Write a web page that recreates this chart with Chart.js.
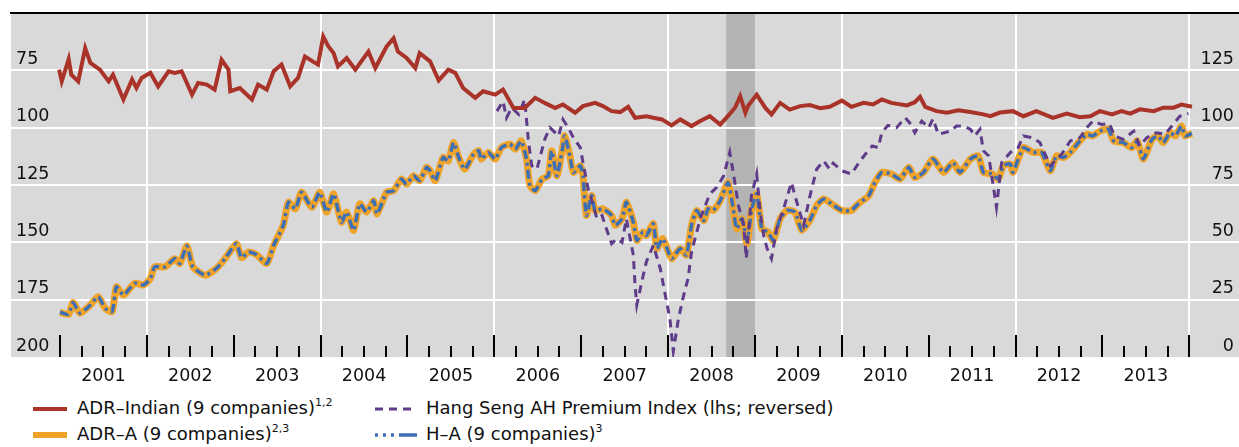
<!DOCTYPE html>
<html><head><meta charset="utf-8">
<script src="https://cdn.jsdelivr.net/npm/chart.js@4.4.1/dist/chart.umd.min.js"></script>
<style>
html,body{margin:0;padding:0;background:#fff;width:1239px;height:447px;overflow:hidden;font-family:"DejaVu Sans",sans-serif;}
#wrap{position:absolute;left:0;top:0;width:1239px;height:396px;}
.lg{position:absolute;font-size:18px;line-height:20px;color:#111;white-space:nowrap;}
.lg sup{font-size:11px;line-height:0;position:relative;top:-1px;vertical-align:super;}
.sym{position:absolute;}
</style></head><body>
<div id="wrap"><canvas id="c" width="1239" height="396"></canvas></div>

<svg class="sym" style="left:33px;top:404px" width="36" height="10"><line x1="0" y1="5" x2="34" y2="5" stroke="#a93229" stroke-width="4"/></svg>
<div class="lg" style="left:77px;top:398px">ADR–Indian (9 companies)<sup>1,2</sup></div>
<svg class="sym" style="left:33px;top:430px" width="36" height="10"><line x1="0" y1="5" x2="34" y2="5" stroke="#f0a329" stroke-width="6"/></svg>
<div class="lg" style="left:77px;top:424px">ADR–A (9 companies)<sup>2,3</sup></div>
<svg class="sym" style="left:375px;top:404px" width="42" height="10"><line x1="0" y1="5" x2="42" y2="5" stroke="#5f3c8a" stroke-width="3" stroke-dasharray="8 6"/></svg>
<div class="lg" style="left:426px;top:398px">Hang Seng AH Premium Index (lhs; reversed)</div>
<svg class="sym" style="left:375px;top:430px" width="42" height="10"><line x1="0" y1="5" x2="42" y2="5" stroke="#3d6fb5" stroke-width="3.5" stroke-dasharray="3 5 3 5 3 5 18 0"/></svg>
<div class="lg" style="left:426px;top:424px">H–A (9 companies)<sup>3</sup></div>

<script>
// ---- data (decimal years, index values) ----
const indianYears = [2000.99,2001.02,2001.10,2001.13,2001.21,2001.29,2001.35,2001.46,2001.56,2001.61,2001.73,2001.83,2001.88,2001.94,2002.04,2002.13,2002.25,2002.32,2002.40,2002.52,2002.59,2002.69,2002.78,2002.86,2002.94,2002.96,2003.07,2003.21,2003.28,2003.38,2003.46,2003.55,2003.65,2003.74,2003.82,2003.97,2004.03,2004.09,2004.15,2004.20,2004.30,2004.40,2004.55,2004.63,2004.76,2004.84,2004.89,2004.99,2005.09,2005.14,2005.26,2005.36,2005.47,2005.55,2005.64,2005.78,2005.87,2006.01,2006.10,2006.22,2006.35,2006.47,2006.58,2006.70,2006.79,2006.93,2007.02,2007.16,2007.25,2007.35,2007.45,2007.54,2007.62,2007.75,2007.83,2007.93,2008.04,2008.14,2008.27,2008.37,2008.48,2008.60,2008.67,2008.77,2008.83,2008.89,2008.92,2009.02,2009.12,2009.19,2009.29,2009.40,2009.52,2009.63,2009.75,2009.86,2010.00,2010.11,2010.25,2010.36,2010.46,2010.57,2010.75,2010.84,2010.90,2010.96,2011.09,2011.21,2011.34,2011.48,2011.63,2011.71,2011.82,2011.97,2012.09,2012.24,2012.43,2012.59,2012.74,2012.86,2012.97,2013.11,2013.22,2013.32,2013.43,2013.59,2013.70,2013.82,2013.91,2014.03];
const indianValues = [125.3,120.2,129.9,123.1,120.2,134.7,128.2,125.3,120.2,123.1,112.3,121,117.3,121.7,123.9,118,124.6,123.9,124.6,114.4,119.5,118.8,116.6,129.6,125.3,115.9,117.3,112.3,118.8,116.6,124.6,127.5,118,121.7,131,127.5,139.7,135.4,132.5,126.7,130.4,125.3,133.2,126,135.4,139,133.2,130.4,126,132.5,128.9,120.6,125.3,123.9,117.3,113,115.9,114.4,116.6,108.6,108.6,113,110.8,108.6,110.1,106.5,109.4,110.8,109.4,107.2,106.8,109.1,104.3,105,104.3,103.6,101,103.6,100.7,102.9,105,101.4,104.3,108.7,113.7,106.5,109.4,114.4,108.6,105.8,110.8,107.9,109.4,109.9,108.5,109.1,111.8,109.1,110.8,110.1,112.3,110.8,109.7,111.1,113.4,109.1,107.2,106.5,107.6,106.8,105.8,105,106.6,107.2,105,107.2,104.3,106.1,104.6,105,107.2,105.8,107.2,106.1,108,107.2,108.7,108.7,110.1,109.1];

const adrYears = [2001.00,2001.10,2001.15,2001.23,2001.35,2001.44,2001.52,2001.60,2001.65,2001.73,2001.86,2001.96,2002.04,2002.09,2002.21,2002.32,2002.38,2002.46,2002.53,2002.67,2002.80,2002.90,2003.03,2003.09,2003.17,2003.26,2003.38,2003.46,2003.57,2003.63,2003.71,2003.78,2003.90,2003.99,2004.07,2004.15,2004.24,2004.30,2004.38,2004.45,2004.53,2004.61,2004.65,2004.76,2004.84,2004.93,2004.99,2005.07,2005.14,2005.22,2005.26,2005.32,2005.41,2005.47,2005.53,2005.59,2005.66,2005.76,2005.82,2005.85,2005.93,2006.01,2006.08,2006.18,2006.24,2006.31,2006.37,2006.41,2006.47,2006.55,2006.62,2006.66,2006.72,2006.78,2006.81,2006.87,2006.91,2006.99,2007.02,2007.06,2007.12,2007.16,2007.25,2007.35,2007.39,2007.47,2007.52,2007.60,2007.64,2007.71,2007.75,2007.83,2007.87,2007.94,2008.04,2008.14,2008.21,2008.27,2008.33,2008.41,2008.46,2008.52,2008.60,2008.69,2008.75,2008.79,2008.85,2008.91,2008.96,2009.02,2009.08,2009.15,2009.21,2009.29,2009.37,2009.46,2009.54,2009.63,2009.71,2009.79,2009.88,2010.00,2010.11,2010.19,2010.31,2010.38,2010.46,2010.57,2010.67,2010.77,2010.84,2010.94,2011.05,2011.17,2011.28,2011.36,2011.48,2011.57,2011.63,2011.73,2011.80,2011.86,2011.94,2011.97,2012.09,2012.20,2012.30,2012.40,2012.47,2012.55,2012.63,2012.74,2012.82,2012.89,2012.97,2013.07,2013.13,2013.24,2013.34,2013.40,2013.47,2013.57,2013.64,2013.70,2013.78,2013.84,2013.91,2013.95,2014.03];
const adrValues = [19.5,18.6,23.8,19.1,22.7,26.3,21.2,19.8,30.6,27,32.1,31.4,34.2,39.3,39.3,42.9,40.8,48.4,39.3,35.7,38.6,42.9,49.4,43.3,45.8,44.7,40.8,48.7,57.4,67.5,64.6,71.8,65.3,71.8,63.2,71.1,58.8,63.2,55.2,66.8,63.2,68.2,62.4,71.8,72.5,77.6,75.4,79,76.9,82.7,81.2,76.9,87,85.5,93.5,87,81.9,88.4,89.9,86.3,89.2,86.3,91.3,92.8,90.6,94.2,86.3,74.7,72.5,77.6,79,89.9,79,89.9,96.4,87.7,80.5,83.4,79,61.7,70.4,63.9,64.6,61.7,57.4,60.3,67.5,58.8,50.9,54.5,53,58.1,47.3,51.6,42.9,47.3,44.4,57.4,63.9,59.5,64.6,63.9,68.2,76.1,64.6,55.9,60.3,49.4,63.9,71.1,55.9,54.5,50.9,60.3,63.9,63.2,55.2,59.5,66,68.9,66.8,63.9,63.9,66.8,70.4,76.1,80.5,79.8,77.6,82.7,78.3,80.5,86.3,80.5,84.8,80.5,86.3,87.7,80.5,79.8,77.6,83.4,84.1,80.5,91.3,89.2,89.2,81.2,87.7,87,89.2,94.2,97.1,96.4,98.5,99.3,94.2,93.5,91.3,94.2,86.3,94.9,96.4,93.5,97.8,96.4,100.7,96.4,97.5];
const haValues = [19.5,18.6,23.8,19.1,22.7,26.3,21.2,19.8,30.6,27,32.1,31.4,34.2,39.3,39.3,42.9,40.8,48.4,39.3,35.7,38.6,42.9,49.4,43.3,45.8,44.7,40.8,48.7,57.4,67.5,64.6,71.8,65.3,71.8,63.2,71.1,58.8,63.2,55.2,66.8,63.2,68.2,62.4,71.8,72.5,77.6,75.4,79,76.9,82.7,81.2,76.9,87,85.5,93.5,87,81.9,88.4,89.9,86.3,89.2,86.3,91.3,92.8,90.6,94.2,86.3,74.7,72.5,77.6,79,89.9,79,89.9,96.4,87.7,80.5,83.4,79,61.7,70.4,63.9,64.6,61.7,57.4,60.3,67.5,58.8,50.9,54.5,53,58.1,47.3,51.6,42.9,47.3,44.4,57.4,63.9,59.5,64.6,63.9,68.2,76.1,64.6,55.9,60.3,50.5,63.9,71.1,55.9,54.5,50.9,60.3,63.9,63.2,55.2,59.5,66,68.9,66.8,63.9,63.9,66.8,70.4,76.1,80.5,79.8,77.6,82.7,78.3,80.5,86.3,80.5,84.8,80.5,86.3,87.7,80.5,79.8,77.6,83.4,84.1,80.5,91.3,89.2,89.2,81.2,87.7,87,89.2,94.2,97.1,96.4,98.5,99.3,94.2,93.5,91.3,94.2,86.3,94.9,96.4,93.5,97.8,96.4,100.7,96.4,97.5];

const hsYears = [2006.03,2006.10,2006.14,2006.20,2006.28,2006.35,2006.39,2006.43,2006.49,2006.58,2006.64,2006.74,2006.79,2006.85,2006.91,2006.99,2007.02,2007.08,2007.14,2007.18,2007.24,2007.29,2007.35,2007.41,2007.47,2007.52,2007.60,2007.62,2007.64,2007.71,2007.75,2007.83,2007.91,2007.96,2008.02,2008.06,2008.12,2008.18,2008.23,2008.27,2008.37,2008.48,2008.56,2008.64,2008.71,2008.75,2008.81,2008.87,2008.90,2008.96,2009.02,2009.06,2009.10,2009.14,2009.19,2009.25,2009.33,2009.42,2009.46,2009.56,2009.63,2009.71,2009.79,2009.86,2009.90,2010.00,2010.11,2010.21,2010.27,2010.35,2010.42,2010.46,2010.53,2010.63,2010.73,2010.78,2010.84,2010.92,2011.00,2011.05,2011.11,2011.25,2011.32,2011.40,2011.48,2011.53,2011.59,2011.63,2011.69,2011.76,2011.78,2011.84,2011.94,2012.03,2012.09,2012.20,2012.28,2012.40,2012.53,2012.63,2012.74,2012.82,2012.89,2012.99,2013.08,2013.14,2013.24,2013.36,2013.43,2013.51,2013.62,2013.72,2013.80,2013.89,2013.99];
const hsValues = [92.8,88.5,95.7,91.3,94.2,87.7,105,116.6,118.1,105.1,100,103.6,96.4,100,104.4,108.7,115.2,126.7,134,139.7,138.3,144.1,150.6,148.4,150,139.7,155.6,168.6,177.3,165,158.5,151.3,161.4,171.5,183.1,197.5,183.1,173,165.8,154.2,139.7,128.9,126,121,110.8,119.5,134,142.6,157.1,129.6,120.2,136.8,147,152.7,157.1,144.1,135.4,123.9,129.6,142.6,130.3,118.1,114.5,118.1,115.5,118.8,120.2,114.5,111.6,108,108.7,102.2,99,100,95.7,97.8,102.2,97.1,100,96.1,102.9,101.5,99.3,99.3,100.7,103.6,100.7,110.1,112.3,129.6,134.7,115.2,110.8,108.7,103.6,104.4,106.5,116.6,111.6,105.8,104.4,100,97.1,98.6,98.2,103.6,105.1,101.5,108,104.4,102.2,102.9,99.3,95,93.8];

const shadeStart = [2008.67];
const shadeEnd = [2009.00];
const yearLabels = ['2001','2002','2003','2004','2005','2006','2007','2008','2009','2010','2011','2012','2013'];
const leftTicks = [50,75,100,125,150,175,200];
const rightTicks = [0,25,50,75,100,125,150];
const xMin = 2000.436, xMax = 2014.572;

const pts = (xs, ys) => xs.map((x, i) => ({x, y: ys[i]}));
const FONT = {family: '"DejaVu Sans", sans-serif', size: 17.5};

const bgPlugin = {
  id: 'bg',
  beforeDraw(chart) {
    const {ctx, chartArea: a, scales: {x}} = chart;
    ctx.save();
    ctx.fillStyle = '#d9d9d9';
    ctx.fillRect(a.left, a.top, a.right - a.left, a.bottom - a.top);
    ctx.fillStyle = '#b3b3b3';
    shadeStart.forEach((s, i) => {
      const x0 = x.getPixelForValue(s), x1 = x.getPixelForValue(shadeEnd[i]);
      ctx.fillRect(x0, a.top, x1 - x0, a.bottom - a.top);
    });
    ctx.restore();
  },
  beforeDatasetsDraw(chart) {
    const {ctx, chartArea: a, scales: {x}} = chart;
    const first = +yearLabels[0], last = +yearLabels[yearLabels.length - 1] + 1;
    ctx.save();
    ctx.strokeStyle = '#000';
    ctx.lineWidth = 2;
    ctx.beginPath();
    for (let q = first * 4; q <= last * 4; q++) {
      const v = q / 4;
      const px = Math.round(x.getPixelForValue(v));
      const len = (q % 4 === 0) ? 22 : 11;
      ctx.moveTo(px, a.bottom);
      ctx.lineTo(px, a.bottom - len);
    }
    ctx.stroke();
    ctx.restore();
  }
};

new Chart(document.getElementById('c'), {
  type: 'line',
  data: {
    datasets: [
      {label: 'ADR–Indian (9 companies)', data: pts(indianYears, indianValues), yAxisID: 'yR', order: 0,
       borderColor: '#a93229', borderWidth: 4, pointRadius: 0, tension: 0},
      {label: 'ADR–A (9 companies)', data: pts(adrYears, adrValues), yAxisID: 'yR', order: 3,
       borderColor: '#f0a329', borderWidth: 7, pointRadius: 0, tension: 0.2},
      {label: 'H–A (9 companies)', data: pts(adrYears, haValues), yAxisID: 'yR', order: 2,
       borderColor: '#3d6fb5', borderWidth: 3.5, borderDash: [9, 4, 3, 4], pointRadius: 0, tension: 0.2},
      {label: 'Hang Seng AH Premium Index (lhs; reversed)', data: pts(hsYears, hsValues), yAxisID: 'yL', order: 1,
       borderColor: '#5f3c8a', borderWidth: 3, borderDash: [8, 6], pointRadius: 0, tension: 0}
    ]
  },
  options: {
    responsive: false,
    animation: false,
    layout: {padding: {left: 11, top: 13, right: 0, bottom: 0}},
    plugins: {legend: {display: false}, tooltip: {enabled: false}},
    scales: {
      x: {
        type: 'linear', position: 'bottom', min: xMin, max: xMax,
        afterBuildTicks: s => {
          const t = [];
          const first = +yearLabels[0], last = +yearLabels[yearLabels.length - 1] + 1;
          for (let q = first * 4; q <= last * 4; q++) t.push({value: q / 4});
          s.ticks = t;
        },
        grid: {
          drawTicks: false, lineWidth: 2,
          color: c => (c.tick && Number.isInteger(c.tick.value) && c.tick.value % 2 === 0) ? '#ffffff' : 'rgba(0,0,0,0)'
        },
        border: {display: false},
        ticks: {
          autoSkip: false, maxRotation: 0, minRotation: 0, padding: 9, color: '#111', font: FONT,
          callback: v => {
            const y = Math.floor(v);
            return (v - y === 0.5 && yearLabels.includes(String(y))) ? String(y) : '';
          }
        }
      },
      xTop: {
        type: 'linear', position: 'top', min: 0, max: 1,
        grid: {display: false, drawTicks: false},
        ticks: {display: false},
        border: {display: true, color: '#000', width: 2}
      },
      yL: {
        type: 'linear', position: 'left', reverse: true, min: 50, max: 200,
        afterBuildTicks: s => { s.ticks = leftTicks.map(v => ({value: v})); },
        afterFit: s => { s.paddingTop = 0; s.paddingBottom = 0; s.width = 0; },
        grid: {drawTicks: false, lineWidth: 2,
          color: c => (c.tick && (c.tick.value === 50 || c.tick.value === 200)) ? 'rgba(0,0,0,0)' : '#ffffff'},
        border: {display: false},
        ticks: {mirror: true, padding: 5, labelOffset: -11, color: '#111', font: FONT,
          callback: v => v === 50 ? '' : String(v)}
      },
      yR: {
        type: 'linear', position: 'right', min: 0, max: 150,
        afterBuildTicks: s => { s.ticks = rightTicks.map(v => ({value: v})); },
        afterFit: s => { s.paddingTop = 0; s.paddingBottom = 0; s.width = 0; },
        grid: {display: false, drawTicks: false},
        border: {display: false},
        ticks: {mirror: true, padding: -5, labelOffset: -11, color: '#111', font: FONT,
          callback: v => v === 150 ? '' : String(v)}
      }
    }
  },
  plugins: [bgPlugin]
});
</script>
</body></html>
